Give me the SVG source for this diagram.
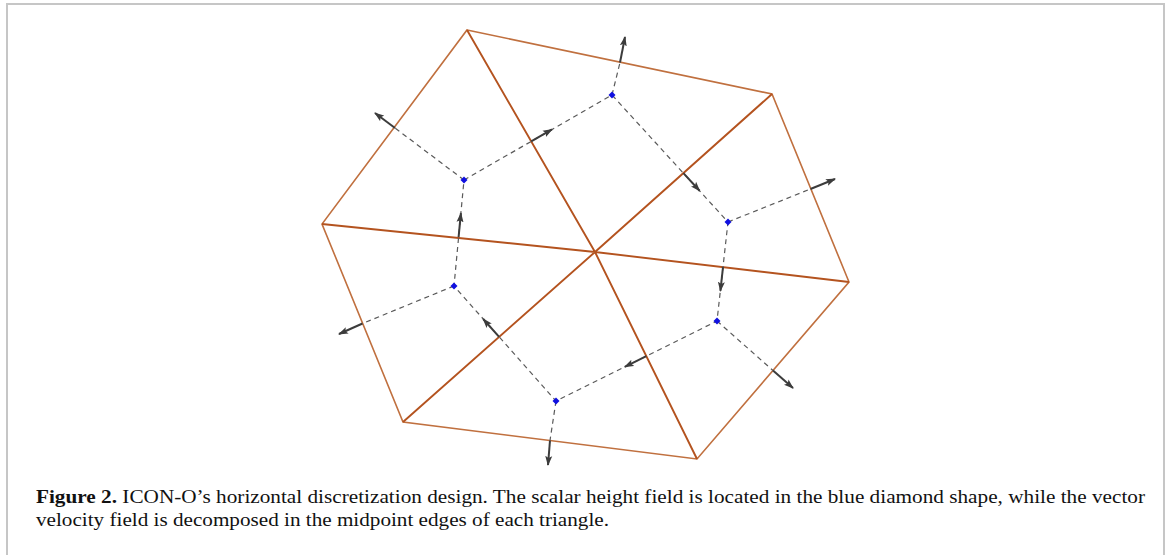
<svg xmlns="http://www.w3.org/2000/svg" width="1167" height="555" viewBox="0 0 1167 555">
<defs>
<marker id="ah" viewBox="0 0 10 8" refX="9" refY="4" markerWidth="10" markerHeight="8" markerUnits="userSpaceOnUse" orient="auto">
<path d="M0,0.5 L10,4 L0,7.5 L2,4 Z" fill="#3c3c3c"/>
</marker>
<style>
.frame{fill:none;stroke:#c6c6c6;stroke-width:2}
.edge{fill:none;stroke:#c0703f;stroke-width:1.6;stroke-linejoin:miter}
.spoke{fill:none;stroke:#b4531f;stroke-width:1.9}
.dash{fill:none;stroke:#5a5a5a;stroke-width:1.2;stroke-dasharray:5 4}
.arr{fill:none;stroke:#3c3c3c;stroke-width:2;marker-end:url(#ah)}
.dot{fill:#1010e0}
.cap{font-family:"Liberation Serif","Times New Roman",serif;font-size:19px;fill:#111}
</style>
</defs>
<rect width="1167" height="555" fill="#fff"/>
<path class="frame" d="M7,555 V4 H1164 V555"/>
<g id="mesh">
<polygon class="edge" points="467,30 772,94 849,282 697,459 403,422 322,224"/>
<path class="spoke" d="M467,30 L595,252 M772,94 L595,252 M849,282 L595,252 M697,459 L595,252 M403,422 L595,252 M322,224 L595,252"/>
</g>
<g id="connectors">
<path class="dash" d="M464,180 L612,95 L728,222 L717,321 L556,401 L454,286 Z"/>
<path class="dash" d="M612,95 L620,62.5 M464,180 L395,128 M728,222 L810.5,189 M717,321 L773,370.5 M556,401 L550,440.5 M454,286 L362.5,323.5"/>
<line class="arr" x1="531.2" y1="141.4" x2="552" y2="129.4"/>
<line class="arr" x1="683.4" y1="173.1" x2="699.6" y2="190.8"/>
<line class="arr" x1="723" y1="267.1" x2="720.4" y2="290.9"/>
<line class="arr" x1="646.3" y1="356.1" x2="624.8" y2="366.8"/>
<line class="arr" x1="499.1" y1="336.9" x2="483.2" y2="319"/>
<line class="arr" x1="458.6" y1="237.1" x2="460.9" y2="213.2"/>
<line class="arr" x1="620" y1="62.5" x2="625" y2="37"/>
<line class="arr" x1="395" y1="128" x2="375" y2="113"/>
<line class="arr" x1="810.5" y1="189" x2="835" y2="179"/>
<line class="arr" x1="773" y1="370.5" x2="793" y2="388"/>
<line class="arr" x1="550" y1="440.5" x2="548" y2="465"/>
<line class="arr" x1="362.5" y1="323.5" x2="339" y2="334"/>
</g>
<g id="n1"><path class="dot" d="M612,91.5 L615.5,95 L612,98.5 L608.5,95 Z"/></g>
<g id="n2"><path class="dot" d="M464,176.5 L467.5,180 L464,183.5 L460.5,180 Z"/></g>
<g id="n3"><path class="dot" d="M728,218.5 L731.5,222 L728,225.5 L724.5,222 Z"/></g>
<g id="n4"><path class="dot" d="M454,282.5 L457.5,286 L454,289.5 L450.5,286 Z"/></g>
<g id="n5"><path class="dot" d="M717,317.5 L720.5,321 L717,324.5 L713.5,321 Z"/></g>
<g id="n6"><path class="dot" d="M556,397.5 L559.5,401 L556,404.5 L552.5,401 Z"/></g>
<g id="caption">
<text class="cap" x="36" y="503" textLength="1109" lengthAdjust="spacingAndGlyphs"><tspan font-weight="bold">Figure 2.</tspan> ICON-O’s horizontal discretization design. The scalar height field is located in the blue diamond shape, while the vector</text>
<text class="cap" x="36" y="526" textLength="573" lengthAdjust="spacingAndGlyphs">velocity field is decomposed in the midpoint edges of each triangle.</text>
</g>
</svg>
